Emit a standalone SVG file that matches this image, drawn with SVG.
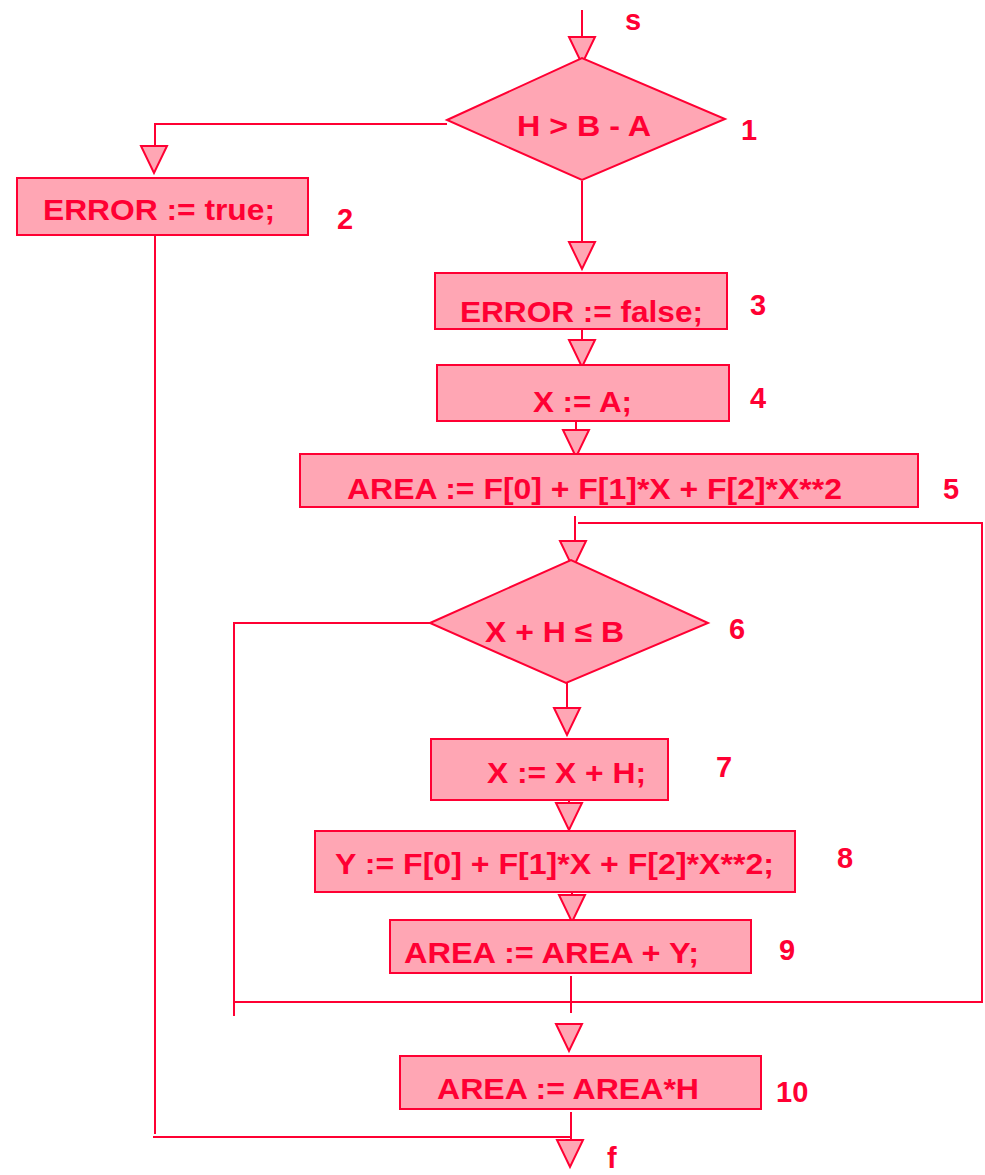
<svg xmlns="http://www.w3.org/2000/svg" width="985" height="1175" viewBox="0 0 985 1175">
  <style>
    .box { fill: #FFA6B4; stroke: #FF0033; stroke-width: 2; }
    .t { font-family: "Liberation Sans", Arial, sans-serif; font-weight: bold; font-size: 30px; fill: #FF0033; }
    .num { font-family: "Liberation Sans", Arial, sans-serif; font-weight: bold; font-size: 29px; fill: #FF0033; }
    .wire { fill: none; stroke: #FF0033; stroke-width: 2; }
    .tri { fill: #FFA6B4; stroke: #FF0033; stroke-width: 2; stroke-linejoin: miter; }
  </style>
  <defs>
    <path id="arrow" class="tri" d="M -13 0 L 13 0 L 0 27 Z"/>
  </defs>
  <rect width="985" height="1175" fill="#FFFFFF"/>

  <!-- connectors -->
  <g id="connectors">
    <path class="wire" d="M 582 10 L 582 37"/>
    <path class="wire" d="M 447 124 L 155 124 L 155 146"/>
    <path class="wire" d="M 155 236 L 155 1134"/>
    <path class="wire" d="M 153 1137 L 571 1137"/>
    <path class="wire" d="M 582 181 L 582 242"/>
    <path class="wire" d="M 582 329 L 582 339"/>
    <path class="wire" d="M 576 421 L 576 430"/>
    <path class="wire" d="M 575 516 L 575 541"/>
    <path class="wire" d="M 578 523 L 982 523 L 982 1002 L 571 1002"/>
    <path class="wire" d="M 430 623 L 234 623 L 234 1016"/>
    <path class="wire" d="M 234 1002 L 571 1002"/>
    <path class="wire" d="M 567 683 L 567 708"/>
    <path class="wire" d="M 569 800 L 569 803"/>
    <path class="wire" d="M 572 892 L 572 895"/>
    <path class="wire" d="M 571 976 L 571 1013"/>
    <path class="wire" d="M 571 1112 L 571 1139"/>
    <use href="#arrow" x="582" y="37"/>
    <use href="#arrow" x="154" y="146"/>
    <use href="#arrow" x="582" y="242"/>
    <use href="#arrow" x="582" y="340"/>
    <use href="#arrow" x="576" y="430"/>
    <use href="#arrow" x="573" y="541"/>
    <use href="#arrow" x="567" y="708"/>
    <use href="#arrow" x="569" y="803"/>
    <use href="#arrow" x="572" y="895"/>
    <use href="#arrow" x="569" y="1024"/>
    <use href="#arrow" x="570" y="1140"/>
    <text class="num" x="625" y="30">s</text>
    <text class="num" x="607" y="1168">f</text>
  </g>

  <!-- 1: decision -->
  <g id="n1">
    <polygon class="box" points="447,120 582,58 725,119 582,180"/>
    <text class="t" x="517" y="136" textLength="134" lengthAdjust="spacingAndGlyphs">H &gt; B - A</text>
    <text class="num" x="741" y="140">1</text>
  </g>

  <!-- 2 -->
  <g id="n2">
    <rect class="box" x="17" y="178" width="291" height="57"/>
    <text class="t" x="43" y="220" textLength="232" lengthAdjust="spacingAndGlyphs">ERROR := true;</text>
    <text class="num" x="337" y="229">2</text>
  </g>

  <!-- 3 -->
  <g id="n3">
    <rect class="box" x="435" y="273" width="292" height="56"/>
    <text class="t" x="460" y="322" textLength="243" lengthAdjust="spacingAndGlyphs">ERROR := false;</text>
    <text class="num" x="750" y="315">3</text>
  </g>

  <!-- 4 -->
  <g id="n4">
    <rect class="box" x="437" y="365" width="292" height="56"/>
    <text class="t" x="533" y="412" textLength="99" lengthAdjust="spacingAndGlyphs">X := A;</text>
    <text class="num" x="750" y="408">4</text>
  </g>

  <!-- 5 -->
  <g id="n5">
    <rect class="box" x="300" y="454" width="618" height="53"/>
    <text class="t" x="347" y="499" textLength="495" lengthAdjust="spacingAndGlyphs">AREA := F[0] + F[1]*X + F[2]*X**2</text>
    <text class="num" x="943" y="499">5</text>
  </g>

  <!-- 6: loop test -->
  <g id="n6">
    <polygon class="box" points="430,623 571,560 708,623 566,683"/>
    <text class="t" x="485" y="642" textLength="139" lengthAdjust="spacingAndGlyphs">X + H ≤ B</text>
    <text class="num" x="729" y="639">6</text>
  </g>

  <!-- 7 -->
  <g id="n7">
    <rect class="box" x="431" y="739" width="237" height="61"/>
    <text class="t" x="487" y="783" textLength="159" lengthAdjust="spacingAndGlyphs">X := X + H;</text>
    <text class="num" x="716" y="777">7</text>
  </g>

  <!-- 8 -->
  <g id="n8">
    <rect class="box" x="315" y="831" width="480" height="61"/>
    <text class="t" x="335" y="874" textLength="439" lengthAdjust="spacingAndGlyphs">Y := F[0] + F[1]*X + F[2]*X**2;</text>
    <text class="num" x="837" y="868">8</text>
  </g>

  <!-- 9 -->
  <g id="n9">
    <rect class="box" x="390" y="920" width="361" height="53"/>
    <text class="t" x="404" y="963" textLength="295" lengthAdjust="spacingAndGlyphs">AREA := AREA + Y;</text>
    <text class="num" x="779" y="960">9</text>
  </g>

  <!-- 10 -->
  <g id="n10">
    <rect class="box" x="400" y="1056" width="361" height="53"/>
    <text class="t" x="437" y="1099" textLength="262" lengthAdjust="spacingAndGlyphs">AREA := AREA*H</text>
    <text class="num" x="776" y="1102">10</text>
  </g>
</svg>
